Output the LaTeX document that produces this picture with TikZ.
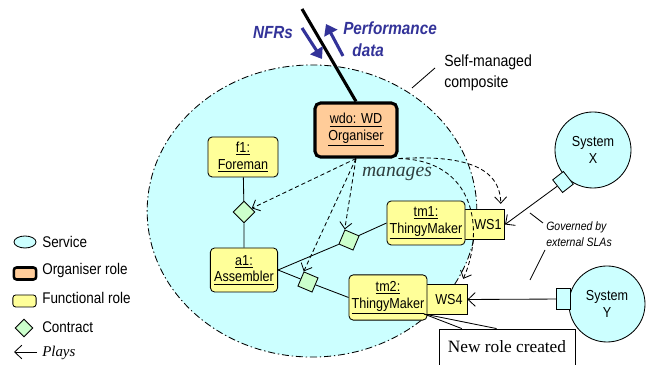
\documentclass[tikz,border=0pt]{standalone}
\usepackage{fontspec}
\setmainfont{Liberation Sans}[FakeStretch=0.87]
\newfontfamily\timesrm{Liberation Serif}
\usetikzlibrary{arrows.meta,shapes.geometric}
\definecolor{svccyan}{HTML}{CCFFFF}
\definecolor{orgpeach}{HTML}{FFCC99}
\definecolor{roleyellow}{HTML}{FFFF99}
\definecolor{contractgreen}{HTML}{CCFFCC}
\definecolor{nfrblue}{HTML}{333399}
\definecolor{manslate}{HTML}{2F3F3F}
\tikzset{
  boxfont/.style={font=\fontsize{10.3}{12}\selectfont},
  orgrole/.style={draw, line width=2.2pt, rounded corners=4pt, fill=orgpeach, align=center, boxfont, inner sep=1pt},
  funcrole/.style={draw, line width=.6pt, rounded corners=3pt, fill=roleyellow, align=center, boxfont, inner sep=1pt},
  wsbox/.style={draw, line width=.6pt, fill=roleyellow, boxfont, inner sep=0pt},
  contract/.style={draw, line width=.6pt, diamond, fill=contractgreen, minimum width=.55cm, minimum height=.55cm, inner sep=0pt},
  service/.style={draw, line width=.6pt, circle, fill=svccyan, align=center, boxfont, minimum size=1.9cm, inner sep=0pt},
  port/.style={draw, line width=.6pt, fill=svccyan, inner sep=0pt},
  manageline/.style={line width=.6pt, dash pattern=on 3pt off 2pt, -{Straight Barb[length=1.6mm,width=3mm]}},
  playline/.style={line width=.6pt, -{Straight Barb[length=1.8mm,width=3.4mm]}},
  bluearrow/.style={nfrblue, line width=2.2pt, -{Triangle[length=2.6mm,width=3.6mm]}},
  legtext/.style={anchor=west, inner sep=0pt, font=\fontsize{11}{13}\selectfont}
}
\begin{document}
\begin{tikzpicture}[x={(0.025cm,0)}, y={(0,-0.025cm)}]
\useasboundingbox (0,0) rectangle (647,365);
\clip (0,0) rectangle (647,365);
\fill[white] (0,0) rectangle (647,365);
\draw[fill=svccyan, line width=.6pt, dash pattern=on 5pt off 2pt on 1pt off 2pt] (312,211) ellipse [x radius=4.12cm, y radius=3.65cm];
\coordinate (smtip) at (412,88); \coordinate (smend) at (435,68);
\draw[line width=.6pt] (smtip) -- (smend);
\node[anchor=west, align=left, inner sep=0pt, font=\fontsize{11.5}{14.5}\selectfont] (smc) at (444,73) {Self-managed\\composite};
\node[orgrole, minimum width=2.05cm, minimum height=1.35cm] (wdo) at (356,130) {\underline{wdo: WD}\\\underline{Organiser}};
\coordinate (ext) at (302,9);
\draw[line width=2.2pt] (ext) -- (wdo.north);
\coordinate (nfra) at (302,28); \coordinate (nfrb) at (322,59);
\coordinate (perfa) at (343,56); \coordinate (perfb) at (326,24);
\draw[bluearrow] (nfra) -- (nfrb); \draw[bluearrow] (perfa) -- (perfb);
\node[nfrblue, font=\fontsize{12.5}{14}\selectfont\bfseries\itshape] (nfrs) at (273,33) {NFRs};
\node[nfrblue, anchor=west, align=left, inner sep=0pt, font=\fontsize{12.5}{15.5}\selectfont\bfseries\itshape] (perf) at (343,39) {Performance\\\hspace*{6.5pt}data};
\node[funcrole, minimum width=1.75cm, minimum height=1cm] (f1) at (243,157) {\underline{f1:}\\\underline{Foreman}};
\node[funcrole, minimum width=1.68cm, minimum height=1.1cm] (a1) at (244,270) {\underline{a1:}\\\underline{Assembler}};
\node[wsbox, minimum width=1.03cm, minimum height=.73cm, text depth=0pt] (ws1) at (484,224.5) {\hspace*{.2cm}WS1};
\node[funcrole, minimum width=1.95cm, minimum height=1.1cm] (tm1) at (426,223) {\underline{tm1:}\\\underline{ThingyMaker}};
\node[wsbox, minimum width=1.05cm, minimum height=.73cm] (ws4) at (446,299.5) {\hspace*{.15cm}WS4};
\node[funcrole, minimum width=1.95cm, minimum height=1.13cm] (tm2) at (388,297.5) {\underline{tm2:}\\\underline{ThingyMaker}};
\node[contract] (c1) at (244,212) {};
\node[contract, rotate=22] (c2) at (349,240) {};
\node[contract, rotate=22] (c3) at (308,282) {};
\draw[line width=.6pt] (f1) -- (c1) -- (a1);
\draw[line width=.6pt] (a1.east) -- (c2) -- (tm1.west);
\draw[line width=.6pt] (a1.east) -- (c3) -- (tm2.west);
\draw[manageline] (wdo.south) -- (c1);
\draw[manageline] (wdo.south) -- (c2.north);
\draw[manageline] (wdo.south) -- (c3.north);
\draw[manageline] (wdo.south east) .. controls (460,155) and (500,165) .. ([xshift=-3pt,yshift=4pt]ws1.north east);
\draw[manageline] (wdo.south east) .. controls (475,160) and (485,230) .. ([xshift=-3pt,yshift=4pt]ws4.north east);
\node[manslate, font=\timesrm\itshape\fontsize{14}{16}\selectfont] (man) at (397,174) {manages};
\node[service] (sysx) at (593,150) {System\\X};
\node[service] (sysy) at (607,304) {System\\Y};
\node[port, rotate=38, minimum width=.34cm, minimum height=.4cm] (px) at (563,182) {};
\node[port, minimum width=.33cm, minimum height=.52cm] (py) at (563.5,299) {};
\draw[playline] (px) -- (ws1.east);
\draw[playline] (py) -- (ws4.east);
\node[anchor=west, align=left, inner sep=0pt, font=\fontsize{8.6}{11}\selectfont\itshape] (gov) at (546,234) {Governed by\\external SLAs};
\coordinate (gova) at (530,213); \coordinate (govb) at (543,223);
\coordinate (govc) at (545,250); \coordinate (govd) at (530,280);
\draw[line width=.6pt] (gova) -- (govb); \draw[line width=.6pt] (govc) -- (govd);
\node[draw, fill=white, line width=.6pt, minimum width=3.4cm, minimum height=1.1cm, font=\timesrm\fontsize{12.3}{14}\selectfont, text depth=6pt] (newrole) at (507,351) {New role created};
\coordinate (tip) at (424,314);
\draw[line width=.6pt] (tip) -- ([xshift=.58cm]newrole.north west);
\draw[line width=.6pt] (tip) -- ([xshift=1.45cm]newrole.north west);
\node[draw, ellipse, fill=svccyan, line width=.6pt, minimum width=.55cm, minimum height=.3cm, inner sep=0pt] (lsvc) at (25,242) {};
\node[legtext] (lsvct) at (42,242) {Service};
\node[draw, line width=1.8pt, rounded corners=2pt, fill=orgpeach, minimum width=.56cm, minimum height=.3cm, inner sep=0pt] (lorg) at (25,273.5) {};
\node[legtext] (lorgt) at (42,271) {Organiser role};
\node[draw, line width=.6pt, rounded corners=2pt, fill=roleyellow, minimum width=.58cm, minimum height=.3cm, inner sep=0pt] (lfun) at (24.5,301) {};
\node[legtext] (lfunt) at (42,298) {Functional role};
\node[contract, minimum width=.45cm, minimum height=.45cm] (lcon) at (24,328) {};
\node[legtext] (lcont) at (42,327) {Contract};
\node[legtext, font=\timesrm\itshape\fontsize{10.6}{12}\selectfont] (lplay) at (42,353) {Plays};
\coordinate (lplaya) at (37,352); \coordinate (lplayb) at (14,352);
\draw[playline] (lplaya) -- (lplayb);
\end{tikzpicture}
\end{document}
